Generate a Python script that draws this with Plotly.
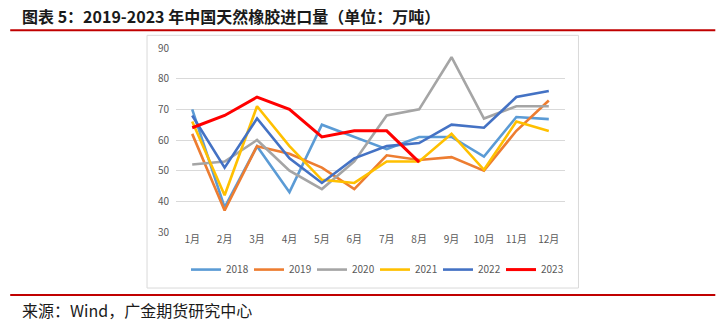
import plotly.graph_objects as go

months = ["1月", "2月", "3月", "4月", "5月", "6月", "7月", "8月", "9月", "10月", "11月", "12月"]
y2018 = [70, 38, 58, 43, 65, 61, 57, 61, 61, 54.6, 67.5, 66.8]
y2019 = [62, 37, 58, 55.5, 51, 44, 55, 53.5, 54.4, 50, 63, 72.9]
y2020 = [52, 53, 60, 50, 44, 53, 68, 70, 87, 67, 71, 71]
y2021 = [66, 42, 71, 58, 47, 46, 53, 53, 62, 50.3, 66, 62.9]
y2022 = [68, 51, 67, 54, 46, 54, 58, 59, 65, 64, 74, 76]
y2023 = [64, 68, 74, 70, 61, 63, 63, 52.8]
series = [("2018", y2018, "#5B9BD5", 2.6), ("2019", y2019, "#ED7D31", 2.6),
          ("2020", y2020, "#A5A5A5", 2.6), ("2021", y2021, "#FFC000", 2.6),
          ("2022", y2022, "#4472C4", 2.6), ("2023", y2023, "#FF0000", 3.0)]

W, H = 725, 324
L, R, T, B = 176, 725 - 565.5, 47.7, 324 - 232.3
pw, ph = W - L - R, H - T - B

def px(x):
    return (x - L) / pw

def py(y):
    return (H - B - y) / ph

fig = go.Figure()
for name, ys, col, lw in series:
    fig.add_trace(go.Scatter(x=months[:len(ys)], y=ys, name=name, mode="lines",
                             line=dict(color=col, width=lw)))

font = "Noto Sans CJK SC"
fig.update_layout(
    width=W, height=H, margin=dict(l=L, r=R, t=T, b=B),
    paper_bgcolor="white", plot_bgcolor="white",
    font=dict(family=font, color="#595959", size=10),
    showlegend=True,
    legend=dict(orientation="h", x=px(186), xanchor="left", y=py(270), yanchor="middle",
                font=dict(size=10, color="#595959"), entrywidth=18, entrywidthmode="pixels",
                itemwidth=30, bgcolor="rgba(0,0,0,0)"),
    xaxis=dict(type="category", categoryorder="array", categoryarray=months, range=[-0.5, 11.5],
               showgrid=False, zeroline=False, showline=False, ticks="",
               tickfont=dict(size=10, color="#595959")),
    yaxis=dict(range=[30, 90], dtick=10, tick0=30, showgrid=True, gridcolor="#D9D9D9", gridwidth=1,
               zeroline=False, showline=False, ticks="", ticklabelstandoff=6,
               tickfont=dict(size=10, color="#595959")),
    shapes=[
        dict(type="rect", xref="paper", yref="paper", x0=px(147), x1=px(579), y0=py(288.5), y1=py(35),
             line=dict(color="#D9D9D9", width=1), fillcolor="rgba(0,0,0,0)", layer="below"),
        dict(type="line", xref="paper", yref="paper", x0=px(10), x1=px(716), y0=py(30), y1=py(30),
             line=dict(color="#C00000", width=2)),
        dict(type="line", xref="paper", yref="paper", x0=px(10), x1=px(716), y0=py(295.5), y1=py(295.5),
             line=dict(color="#C00000", width=2)),
    ],
    annotations=[
        dict(text="<b>图表 5：2019-2023 年中国天然橡胶进口量（单位：万吨）</b>", xref="paper", yref="paper",
             x=px(20), y=py(16), xanchor="left", yanchor="middle", showarrow=False,
             font=dict(family=font, size=16, color="#1A1A1A")),
        dict(text="来源：Wind，广金期货研究中心", xref="paper", yref="paper",
             x=px(20), y=py(310.5), xanchor="left", yanchor="middle", showarrow=False,
             font=dict(family=font, size=16, color="#1A1A1A")),
    ],
)
fig.write_html("out.html")
